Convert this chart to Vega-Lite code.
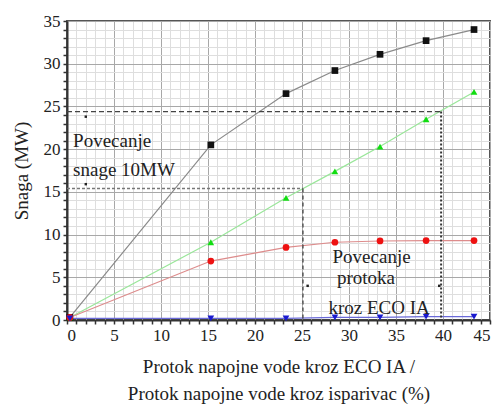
{
  "$schema": "https://vega.github.io/schema/vega-lite/v6.json",
  "width": 423,
  "height": 299,
  "autosize": {"type": "none"},
  "padding": {"left": 67, "top": 21, "right": 8, "bottom": 85},
  "config": {
    "view": {"stroke": "#555", "strokeWidth": 2},
    "font": "Times New Roman, serif",
    "axis": {"labelFont": "Times New Roman, serif", "titleFont": "Times New Roman, serif", "labelFontSize": 17, "titleFontSize": 19, "titleFontWeight": "normal", "labelColor": "#222", "titleColor": "#222"}
  },
  "datasets": {
    "series": [
      {"s": "A", "x": 0.3, "y": 0.3}, {"s": "A", "x": 15.3, "y": 20.5}, {"s": "A", "x": 23.3, "y": 26.5}, {"s": "A", "x": 28.5, "y": 29.2}, {"s": "A", "x": 33.3, "y": 31.1}, {"s": "A", "x": 38.2, "y": 32.7}, {"s": "A", "x": 43.3, "y": 34.0},
      {"s": "B", "x": 0.3, "y": 0.3}, {"s": "B", "x": 15.3, "y": 9.1}, {"s": "B", "x": 23.3, "y": 14.3}, {"s": "B", "x": 28.5, "y": 17.4}, {"s": "B", "x": 33.3, "y": 20.3}, {"s": "B", "x": 38.2, "y": 23.5}, {"s": "B", "x": 43.3, "y": 26.7},
      {"s": "C", "x": 0.3, "y": 0.3}, {"s": "C", "x": 15.3, "y": 6.9}, {"s": "C", "x": 23.3, "y": 8.5}, {"s": "C", "x": 28.5, "y": 9.1}, {"s": "C", "x": 33.3, "y": 9.25}, {"s": "C", "x": 38.2, "y": 9.3}, {"s": "C", "x": 43.3, "y": 9.3},
      {"s": "D", "x": 0.3, "y": 0.2}, {"s": "D", "x": 15.3, "y": 0.2}, {"s": "D", "x": 23.3, "y": 0.2}, {"s": "D", "x": 28.5, "y": 0.3}, {"s": "D", "x": 33.3, "y": 0.3}, {"s": "D", "x": 38.2, "y": 0.4}, {"s": "D", "x": 43.3, "y": 0.4}
    ],
    "refs": [
      {"seg": "h1", "x": 0, "y": 24.4}, {"seg": "h1", "x": 39.8, "y": 24.4},
      {"seg": "v1", "x": 39.8, "y": 24.4}, {"seg": "v1", "x": 39.8, "y": 0},
      {"seg": "h2", "x": 0, "y": 15.4}, {"seg": "h2", "x": 25.1, "y": 15.4},
      {"seg": "v2", "x": 25.1, "y": 15.4}, {"seg": "v2", "x": 25.1, "y": 0}
    ],
    "marks": [
      {"x": 2.0, "y": 23.8}, {"x": 2.0, "y": 15.9}, {"x": 25.6, "y": 4.0}, {"x": 39.6, "y": 4.0}
    ],
    "leftText": [
      {"t": "Povecanje", "x": 0.65, "y": 20.3},
      {"t": "snage 10MW", "x": 0.65, "y": 16.9}
    ],
    "rightText": [
      {"t": "Povecanje", "x": 32.4, "y": 6.7},
      {"t": "protoka", "x": 31.8, "y": 4.2},
      {"t": "kroz ECO IA", "x": 33.2, "y": 0.7}
    ]
  },
  "encoding": {
    "x": {"field": "x", "type": "quantitative", "scale": {"domain": [0, 45], "nice": false},
      "axis": {"orient": "bottom", "values": [0,1,2,3,4,5,6,7,8,9,10,11,12,13,14,15,16,17,18,19,20,21,22,23,24,25,26,27,28,29,30,31,32,33,34,35,36,37,38,39,40,41,42,43,44,45],
        "labelExpr": "datum.value % 5 === 0 ? datum.label : ''",
        "grid": true,
        "gridColor": {"condition": {"test": "datum.value % 5 === 0", "value": "#a8a8a8"}, "value": "#dedede"},
        "gridWidth": 1,
        "tickSize": 4,
        "domain": true, "domainColor": "#333", "domainWidth": 2, "tickColor": "#333", "tickWidth": 1.5,
        "labelPadding": 3, "labelOverlap": false,
        "title": ["Protok napojne vode kroz ECO IA /", "Protok napojne vode kroz isparivac (%)"],
        "titleLineHeight": 27, "titlePadding": 14}},
    "y": {"field": "y", "type": "quantitative", "scale": {"domain": [0, 35], "nice": false},
      "axis": {"orient": "left", "values": [0,1,2,3,4,5,6,7,8,9,10,11,12,13,14,15,16,17,18,19,20,21,22,23,24,25,26,27,28,29,30,31,32,33,34,35],
        "labelExpr": "datum.value % 5 === 0 ? datum.label : ''",
        "grid": true,
        "gridColor": {"condition": {"test": "datum.value % 5 === 0", "value": "#a8a8a8"}, "value": "#dedede"},
        "gridWidth": 1,
        "tickSize": 4,
        "domain": true, "domainColor": "#333", "domainWidth": 2, "tickColor": "#333", "tickWidth": 1.5,
        "labelPadding": 3, "labelOverlap": false,
        "title": "Snaga (MW)", "titlePadding": 12}}
  },
  "layer": [
    {
      "data": {"name": "series"},
      "mark": {"type": "line", "strokeWidth": 1.2},
      "encoding": {
        "detail": {"field": "s"},
        "stroke": {"field": "s", "type": "nominal", "legend": null,
          "scale": {"domain": ["A", "B", "C", "D"], "range": ["#8a8a8a", "#99e699", "#dd8c8c", "#6a6ad8"]}}
      }
    },
    {
      "data": {"name": "refs"},
      "transform": [{"filter": "datum.seg === 'h1'"}],
      "mark": {"type": "line", "color": "#444", "strokeWidth": 1.3, "strokeDash": [5, 3]},
      "encoding": {}
    },
    {
      "data": {"name": "refs"},
      "transform": [{"filter": "datum.seg === 'v1'"}],
      "mark": {"type": "line", "color": "#333", "strokeWidth": 2, "strokeDash": [2, 2]},
      "encoding": {}
    },
    {
      "data": {"name": "refs"},
      "transform": [{"filter": "datum.seg === 'h2'"}],
      "mark": {"type": "line", "color": "#777", "strokeWidth": 1.5, "strokeDash": [3, 2]},
      "encoding": {}
    },
    {
      "data": {"name": "refs"},
      "transform": [{"filter": "datum.seg === 'v2'"}],
      "mark": {"type": "line", "color": "#444", "strokeWidth": 1.3, "strokeDash": [4, 3]},
      "encoding": {}
    },
    {
      "data": {"name": "series"},
      "mark": {"type": "point", "filled": true, "opacity": 1, "size": 45},
      "encoding": {
        "fill": {"field": "s", "type": "nominal", "legend": null,
          "scale": {"domain": ["A", "B", "C", "D"], "range": ["#111111", "#11dd11", "#ee1111", "#1a1ad0"]}},
        "shape": {"field": "s", "type": "nominal", "legend": null,
          "scale": {"domain": ["A", "B", "C", "D"], "range": ["square", "triangle-up", "circle", "triangle-down"]}}
      }
    },
    {
      "data": {"name": "marks"},
      "mark": {"type": "square", "size": 6, "color": "#222", "opacity": 1},
      "encoding": {}
    },
    {
      "data": {"name": "leftText"},
      "mark": {"type": "text", "align": "left", "baseline": "alphabetic", "font": "Liberation Serif", "fontSize": 19, "color": "#222"},
      "encoding": {"text": {"field": "t"}}
    },
    {
      "data": {"name": "rightText"},
      "mark": {"type": "text", "align": "center", "baseline": "alphabetic", "font": "Liberation Serif", "fontSize": 19, "color": "#222"},
      "encoding": {"text": {"field": "t"}}
    }
  ]
}
